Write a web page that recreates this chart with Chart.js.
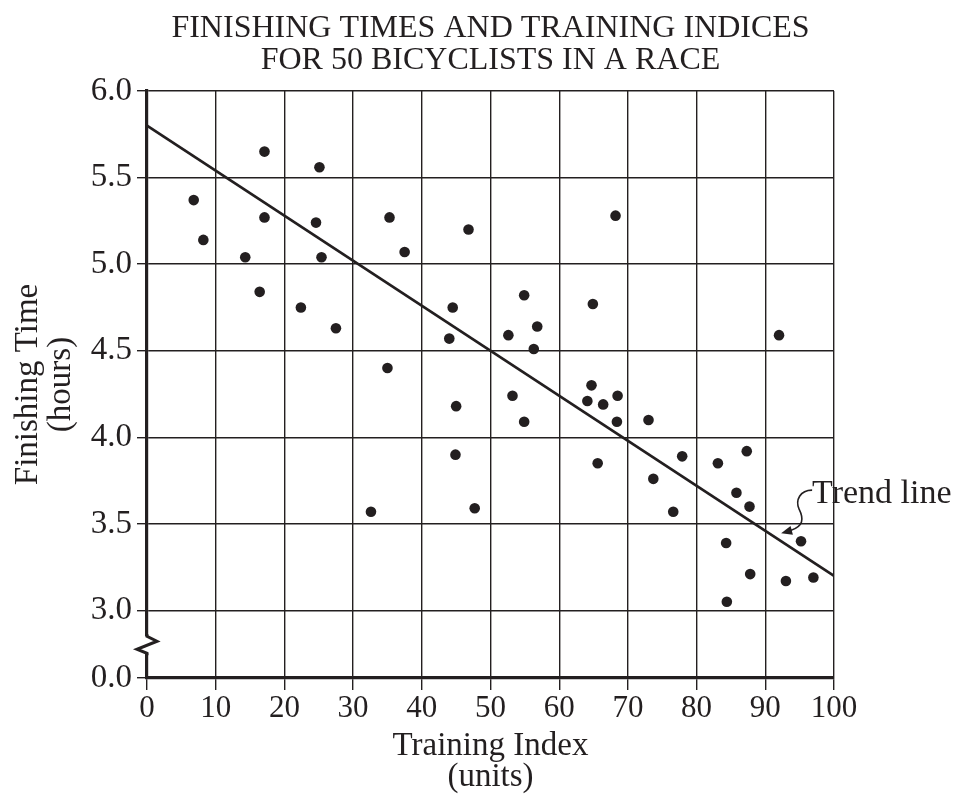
<!DOCTYPE html>
<html>
<head>
<meta charset="utf-8">
<script src="https://cdn.jsdelivr.net/npm/chart.js@4.4.1/dist/chart.umd.min.js"></script>
<style>
  html, body { margin: 0; padding: 0; background: #ffffff; }
  #wrap { width: 954px; height: 797px; }
</style>
</head>
<body>
<div id="wrap"><canvas id="c" width="954" height="797"></canvas></div>
<script>
// ---- data ----
const chartTitle = ['FINISHING TIMES AND TRAINING INDICES', 'FOR 50 BICYCLISTS IN A RACE'];
const xAxisTitle = ['Training Index', '(units)'];
const yAxisTitle = ['Finishing Time', '(hours)'];
const trendLabel = 'Trend line';

const trainingIndex = [
  6.8, 8.2, 17.1, 25.1, 17.1, 24.6, 14.3, 25.4, 16.4, 35.3,
  37.5, 46.8, 54.9, 68.2, 22.4, 27.5, 35.0, 44.5, 44.0, 56.8,
  52.6, 56.3, 45.0, 53.2, 54.9, 44.9, 32.6, 47.7, 64.9, 92.0,
  64.7, 64.1, 66.4, 68.5, 68.4, 73.0, 65.6, 77.9, 73.7, 83.1,
  87.3, 85.8, 87.7, 76.6, 84.3, 95.2, 87.8, 93.0, 97.0, 84.4
];
const finishingTime = [
  5.37, 5.14, 5.65, 5.56, 5.27, 5.24, 5.04, 5.04, 4.84, 5.27,
  5.07, 5.20, 4.82, 5.28, 4.75, 4.63, 4.40, 4.75, 4.57, 4.64,
  4.59, 4.51, 4.18, 4.24, 4.09, 3.90, 3.57, 3.59, 4.77, 4.59,
  4.30, 4.21, 4.19, 4.24, 4.09, 4.10, 3.85, 3.89, 3.76, 3.85,
  3.92, 3.68, 3.60, 3.57, 3.39, 3.40, 3.21, 3.17, 3.19, 3.05
];
const trendX = [0, 100];
const trendY = [5.8, 3.2];
const trendArrowX = 92.3;

const xTicks = [0, 10, 20, 30, 40, 50, 60, 70, 80, 90, 100];
const yTicks = [3.0, 3.5, 4.0, 4.5, 5.0, 5.5, 6.0];
const yBreakValue = 2.61;   // axis position standing for the "0.0" label below the break
const yBreakLabel = '0.0';

// ---- styling ----
const INK = '#231f20';
const FONT = 'Liberation Serif';
Chart.defaults.font.family = FONT;
Chart.defaults.color = INK;

const axisBreakPlugin = {
  id: 'axisBreak',
  afterDraw(chart) {
    const { ctx, scales: { x, y } } = chart;
    const ax = x.getPixelForValue(0);
    const y3 = y.getPixelForValue(yTicks[0]);
    const y0 = y.getPixelForValue(yBreakValue);
    const mid = (y3 + y0) / 2 + 1;
    ctx.save();
    ctx.fillStyle = '#ffffff';
    ctx.fillRect(ax - 3, mid - 9, 6, 17);
    ctx.strokeStyle = INK;
    ctx.lineWidth = 3;
    ctx.lineJoin = 'miter';
    ctx.beginPath();
    ctx.moveTo(ax, mid - 11);
    ctx.lineTo(ax, mid - 9);
    ctx.lineTo(ax + 10, mid - 4);
    ctx.lineTo(ax - 10, mid + 4);
    ctx.lineTo(ax, mid + 8);
    ctx.lineTo(ax, mid + 10);
    ctx.stroke();
    ctx.restore();
  }
};

const trendLabelPlugin = {
  id: 'trendLabel',
  afterDraw(chart) {
    const { ctx, scales: { x, y } } = chart;
    const t = (trendArrowX - trendX[0]) / (trendX[1] - trendX[0]);
    const ty = trendY[0] + t * (trendY[1] - trendY[0]);
    const tipX = x.getPixelForValue(trendArrowX);
    const tipY = y.getPixelForValue(ty) - 8;
    ctx.save();
    ctx.strokeStyle = INK;
    ctx.fillStyle = INK;
    ctx.lineWidth = 1.6;
    ctx.beginPath();
    ctx.moveTo(tipX + 31, tipY - 43);
    ctx.bezierCurveTo(tipX + 19, tipY - 43, tipX + 14, tipY - 33, tipX + 18, tipY - 24);
    ctx.bezierCurveTo(tipX + 23, tipY - 14, tipX + 22, tipY - 7, tipX + 10, tipY - 3);
    ctx.lineTo(tipX + 6, tipY - 1.6);
    ctx.stroke();
    // arrow head
    const ang = Math.atan2(1.6, -6);
    const len = 11, half = 4.5;
    ctx.beginPath();
    ctx.moveTo(tipX, tipY);
    ctx.lineTo(tipX - len * Math.cos(ang) - half * Math.sin(ang), tipY - len * Math.sin(ang) + half * Math.cos(ang));
    ctx.lineTo(tipX - len * Math.cos(ang) + half * Math.sin(ang), tipY - len * Math.sin(ang) - half * Math.cos(ang));
    ctx.closePath();
    ctx.fill();
    ctx.font = '34px "' + FONT + '"';
    ctx.textBaseline = 'middle';
    ctx.textAlign = 'left';
    ctx.fillText(trendLabel, tipX + 31, tipY - 39);
    ctx.restore();
  }
};

const points = trainingIndex.map((v, i) => ({ x: v, y: finishingTime[i] }));
const trend = trendX.map((v, i) => ({ x: v, y: trendY[i] }));

new Chart(document.getElementById('c'), {
  type: 'scatter',
  data: {
    datasets: [
      {
        label: 'Bicyclists',
        data: points,
        pointRadius: 5.3,
        pointHoverRadius: 5.3,
        backgroundColor: INK,
        borderWidth: 0
      },
      {
        type: 'line',
        label: trendLabel,
        data: trend,
        borderColor: INK,
        borderWidth: 2.6,
        pointRadius: 0,
        fill: false
      }
    ]
  },
  options: {
    responsive: false,
    animation: false,
    events: [],
    layout: { padding: { left: 0, right: 120, top: 0, bottom: 0 } },
    plugins: {
      legend: { display: false },
      tooltip: { enabled: false },
      title: {
        display: true,
        fullSize: false,
        text: chartTitle,
        color: INK,
        font: { family: FONT, size: 32, weight: 'normal', lineHeight: 1.0 },
        padding: { top: 13, bottom: 14 }
      }
    },
    scales: {
      x: {
        type: 'linear',
        min: 0,
        max: 100,
        afterBuildTicks: s => { s.ticks = xTicks.map(v => ({ value: v })); },
        afterFit: s => { s.height = 119; },
        ticks: {
          color: INK,
          font: { family: FONT, size: 31 },
          padding: 0,
          maxRotation: 0,
          autoSkip: false,
          callback: v => String(v)
        },
        grid: { color: INK, lineWidth: 1.4, tickLength: 12 },
        border: { display: true, color: INK, width: 3.2 },
        title: {
          display: true,
          text: xAxisTitle,
          color: INK,
          font: { family: FONT, size: 33, lineHeight: 0.95 },
          padding: { top: 0, bottom: 4 }
        }
      },
      y: {
        type: 'linear',
        min: yBreakValue,
        max: 6.0,
        afterBuildTicks: s => { s.ticks = [yBreakValue].concat(yTicks).map(v => ({ value: v })); },
        afterFit: s => { s.width = 147; },
        ticks: {
          color: INK,
          font: { family: FONT, size: 33 },
          padding: 5,
          autoSkip: false,
          callback: v => (v < yTicks[0] - 0.01 ? yBreakLabel : Number(v).toFixed(1))
        },
        grid: { color: INK, lineWidth: 1.4, tickLength: 10 },
        border: { display: true, color: INK, width: 3.2 },
        title: {
          display: true,
          text: yAxisTitle,
          color: INK,
          font: { family: FONT, size: 33, lineHeight: 1.0 },
          padding: { top: 12, bottom: 0 }
        }
      }
    }
  },
  plugins: [axisBreakPlugin, trendLabelPlugin]
});
</script>
</body>
</html>
